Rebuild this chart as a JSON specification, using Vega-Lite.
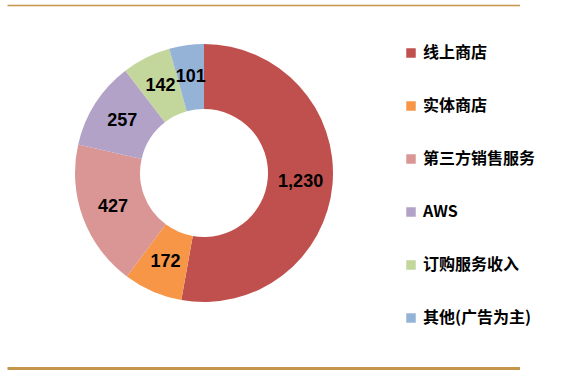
{
  "$schema": "https://vega.github.io/schema/vega-lite/v6.json",
  "width": 577,
  "height": 377,
  "autosize": {"type": "none"},
  "padding": 0,
  "background": "white",
  "config": {"view": {"stroke": null}},
  "layer": [
    {
      "data": {"values": [{"k": 1}]},
      "mark": {"type": "rule", "color": "#C4944A", "strokeWidth": 1.5},
      "encoding": {"x": {"value": 7.5}, "x2": {"value": 520}, "y": {"value": 5.6}}
    },
    {
      "data": {"values": [{"k": 1}]},
      "mark": {"type": "rule", "color": "#C4944A", "strokeWidth": 3},
      "encoding": {"x": {"value": 7.5}, "x2": {"value": 520}, "y": {"value": 368.5}}
    },
    {
      "data": {
        "values": [
          {"name": "线上商店", "value": 1230, "order": 1},
          {"name": "实体商店", "value": 172, "order": 2},
          {"name": "第三方销售服务", "value": 427, "order": 3},
          {"name": "AWS", "value": 257, "order": 4},
          {"name": "订购服务收入", "value": 142, "order": 5},
          {"name": "其他(广告为主)", "value": 101, "order": 6}
        ]
      },
      "encoding": {
        "theta": {"field": "value", "type": "quantitative", "stack": true},
        "order": {"field": "order", "type": "quantitative", "sort": "ascending"},
        "x": {"value": 204},
        "y": {"value": 173}
      },
      "layer": [
        {
          "mark": {"type": "arc", "outerRadius": 129, "innerRadius": 64},
          "encoding": {
            "color": {
              "field": "name",
              "type": "nominal",
              "scale": {
                "domain": ["线上商店", "实体商店", "第三方销售服务", "AWS", "订购服务收入", "其他(广告为主)"],
                "range": ["#C0504D", "#F79646", "#D99694", "#B3A2C7", "#C3D69B", "#95B3D7"]
              },
              "legend": {
                "title": null,
                "orient": "none",
                "legendX": 403,
                "legendY": 45,
                "padding": 0,
                "symbolType": "square",
                "symbolSize": 90,
                "symbolStrokeWidth": 0,
                "labelFont": "Noto Sans CJK SC",
                "labelFontWeight": "bold",
                "labelFontSize": 16,
                "labelColor": "#000000",
                "labelOffset": 4,
                "rowPadding": 37,
                "labelLimit": 200
              }
            }
          }
        },
        {
          "mark": {"type": "text", "radius": 97, "font": "Liberation Sans", "fontWeight": "bold", "fontSize": 18, "color": "#000000", "align": "center", "baseline": "middle"},
          "encoding": {
            "text": {"field": "value", "type": "quantitative", "format": ",d"}
          }
        }
      ]
    }
  ]
}
